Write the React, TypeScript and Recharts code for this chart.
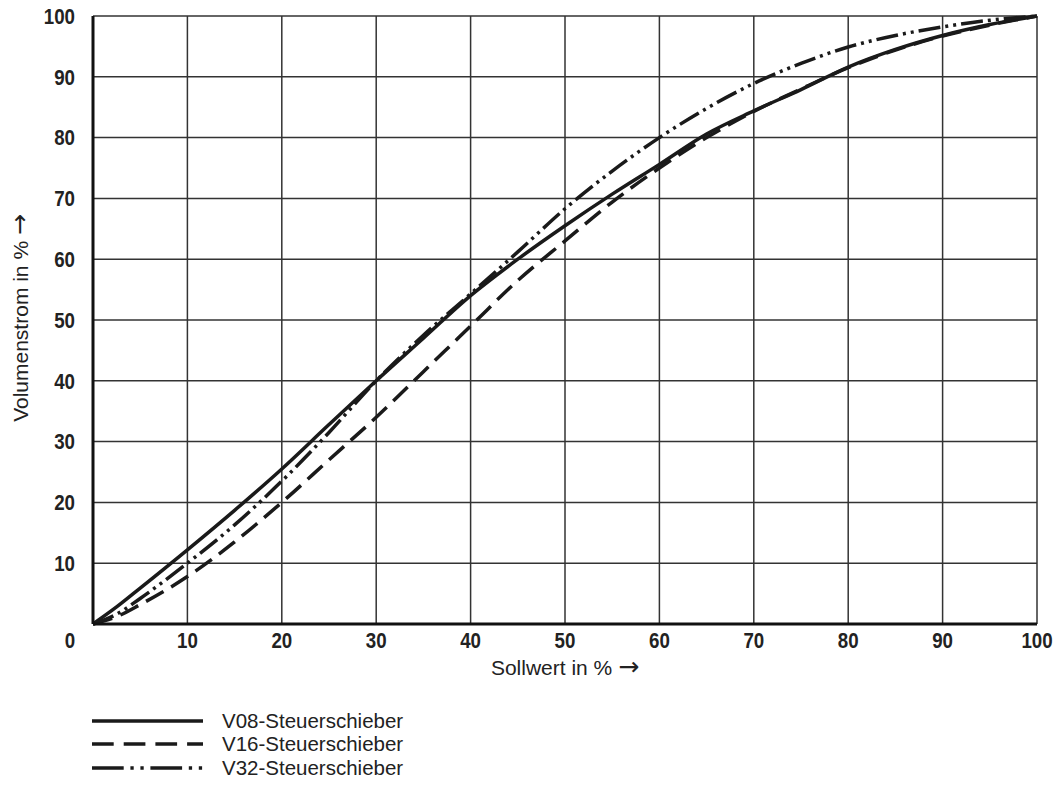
import React from 'react';
import { LineChart, Line, XAxis, YAxis, CartesianGrid } from 'recharts';

// Sollwert (x) in %
const sollwert = [0, 2.5, 5, 10, 15, 20, 25, 30, 35, 40, 45, 50, 55, 60, 65, 70, 75, 80, 85, 90, 95, 100];
// Volumenstrom (y) in %
const v08 = [0, 2.8, 5.9, 12.2, 18.7, 25.5, 32.8, 40, 47, 54, 60, 65.5, 70.7, 75.6, 80.6, 84.4, 87.9, 91.6, 94.5, 96.8, 98.6, 100];
const v16 = [0, 1.2, 3.2, 7.8, 13.5, 20, 27, 34, 41.5, 49, 56.5, 63, 69.4, 75, 80, 84.3, 88, 91.5, 94.4, 96.7, 98.5, 100];
const v32 = [0, 1.6, 4.2, 10, 16.3, 23.5, 31.5, 40, 47.5, 54.3, 61.2, 68.3, 74.5, 80, 84.8, 88.9, 92.2, 94.9, 96.8, 98.2, 99.3, 100];

const xTicks = [0, 10, 20, 30, 40, 50, 60, 70, 80, 90, 100];
const yTicks = [10, 20, 30, 40, 50, 60, 70, 80, 90, 100];

const seriesNames = ['V08-Steuerschieber', 'V16-Steuerschieber', 'V32-Steuerschieber'];

const data = sollwert.map((x, i) => ({ x, v08: v08[i], v16: v16[i], v32: v32[i] }));

const tickFont = "'Liberation Sans', Arial, sans-serif";
const textFont = "'Liberation Sans', Arial, sans-serif";
const arrowFont = "'DejaVu Sans', sans-serif";

const series = [
    { key: 'v08', name: seriesNames[0], dash: undefined, legendDash: undefined },
    { key: 'v16', name: seriesNames[1], dash: '20 9', legendDash: '21.7 10' },
    { key: 'v32', name: seriesNames[2], dash: '22 5 3 5 3 5', legendDash: '31.7 6.7 3.3 6.7 3.3 6.7' },
];

// condensed bold tick label
const TickText = ({ x, y, value, anchor, dy }: any) => (
    <g transform={`translate(${x},${y}) scale(0.85,1)`}>
        <text x={0} y={0} dy={dy} textAnchor={anchor} fontFamily={tickFont} fontWeight="bold" fontSize={22} fill="#222">
            {value}
        </text>
    </g>
);

const XTick = (props: any) => {
    const { x, y, payload } = props;
    // the shared origin label "0" sits left of the corner
    const tx = payload.value === 0 ? x - 23 : x;
    return <TickText x={tx} y={y} value={payload.value} anchor="middle" dy="0.71em" />;
};

const YTick = (props: any) => {
    const { x, y, payload } = props;
    return <TickText x={x} y={y} value={payload.value} anchor="end" dy="0.355em" />;
};

export default function App() {
    return (
        <div style={{ position: 'absolute', left: 0, top: 0, width: 1056, height: 796, background: '#fff' }}>
            <LineChart width={1056} height={796} data={data} margin={{ top: 16, right: 19, bottom: 122, left: 33 }}>
                <CartesianGrid stroke="#333" strokeWidth={1.5} horizontalValues={[...yTicks]} verticalValues={[...xTicks]} />
                <XAxis
                    dataKey="x"
                    type="number"
                    domain={[0, 100]}
                    ticks={xTicks}
                    height={50}
                    tickSize={0}
                    tickMargin={8}
                    tick={<XTick />}
                    axisLine={{ stroke: '#111', strokeWidth: 3 }}
                    tickLine={false}
                />
                <YAxis
                    type="number"
                    domain={[0, 100]}
                    ticks={yTicks}
                    width={60}
                    tickSize={0}
                    tickMargin={18}
                    tick={<YTick />}
                    axisLine={{ stroke: '#111', strokeWidth: 3 }}
                    tickLine={false}
                />
                {series.map((s) => (
                    <Line
                        key={s.key}
                        type="monotone"
                        dataKey={s.key}
                        name={s.name}
                        stroke="#1a1a1a"
                        strokeWidth={3.5}
                        strokeDasharray={s.dash}
                        dot={false}
                        isAnimationActive={false}
                    />
                ))}
            </LineChart>

            {/* Axis titles */}
            <div style={{ position: 'absolute', left: 0, width: 1130, top: 654, textAlign: 'center', fontFamily: textFont, fontSize: 21, color: '#222', lineHeight: '26px' }}>
                Sollwert in % <span style={{ fontFamily: arrowFont, fontSize: 25 }}>→</span>
            </div>
            <div
                style={{
                    position: 'absolute',
                    left: 20,
                    top: 318,
                    transform: 'translate(-50%, -50%) rotate(-90deg)',
                    whiteSpace: 'nowrap',
                    fontFamily: textFont,
                    fontSize: 21,
                    color: '#222',
                    lineHeight: '26px',
                }}
            >
                Volumenstrom in % <span style={{ fontFamily: arrowFont, fontSize: 25 }}>→</span>
            </div>

            {/* Legend */}
            <div style={{ position: 'absolute', left: 92, top: 709 }}>
                {series.map((s) => (
                    <div key={s.key} style={{ display: 'flex', alignItems: 'center', height: 23.5 }}>
                        <svg width={112} height={10}>
                            <line x1={0} y1={5} x2={111} y2={5} stroke="#1a1a1a" strokeWidth={3.5} strokeDasharray={s.legendDash} />
                        </svg>
                        <span style={{ marginLeft: 18, fontFamily: textFont, fontSize: 20.5, color: '#222' }}>{s.name}</span>
                    </div>
                ))}
            </div>
        </div>
    );
}
